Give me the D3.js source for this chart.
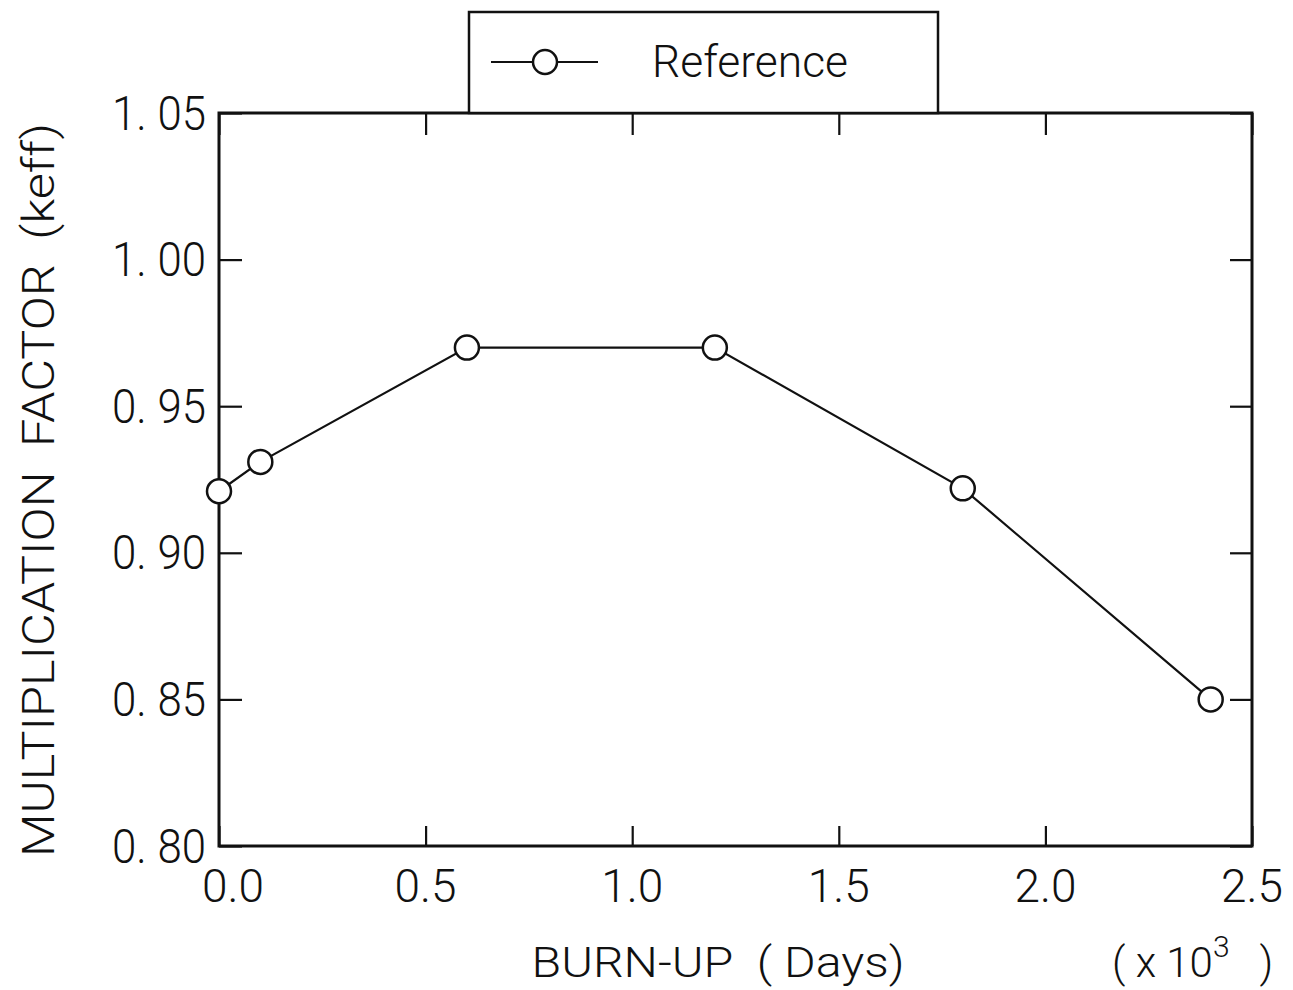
<!DOCTYPE html>
<html>
<head>
<meta charset="utf-8">
<script src="https://cdn.jsdelivr.net/npm/d3@7"></script>
<style>
  html, body { margin: 0; padding: 0; background: #fff; }
  svg text { font-family: "Roboto", "DejaVu Sans", sans-serif; font-weight: 300; fill: #111; white-space: pre; }
</style>
</head>
<body>
<svg id="chart" width="1293" height="990"></svg>
<script>
// Burn-up (thousands of days) and effective multiplication factor
const burnup = [0.0, 0.1, 0.6, 1.2, 1.8, 2.4];
const keff   = [0.921, 0.931, 0.970, 0.970, 0.922, 0.850];
const seriesName = "Reference";

const xTicks = [0.0, 0.5, 1.0, 1.5, 2.0, 2.5];
const xTickLabels = ["0.0", "0.5", "1.0", "1.5", "2.0", "2.5"];
const yTicks = [0.80, 0.85, 0.90, 0.95, 1.00, 1.05];
const yTickLabels = ["0. 80", "0. 85", "0. 90", "0. 95", "1. 00", "1. 05"];

const svg = d3.select("#chart");
const m = { left: 219, right: 1252, top: 113, bottom: 846 };

const x = d3.scaleLinear().domain([0, 2.5]).range([m.left, m.right]);
const y = d3.scaleLinear().domain([0.80, 1.05]).range([m.bottom, m.top]);

const ink = "#111";

// Inward ticks on all four sides
const axes = [
  { ax: d3.axisBottom(x).tickValues(xTicks).tickSizeInner(-20).tickSizeOuter(0), t: `translate(0,${m.bottom})` },
  { ax: d3.axisTop(x).tickValues(xTicks).tickSizeInner(-22).tickSizeOuter(0), t: `translate(0,${m.top})` },
  { ax: d3.axisLeft(y).tickValues(yTicks).tickSizeInner(-23).tickSizeOuter(0), t: `translate(${m.left},0)` },
  { ax: d3.axisRight(y).tickValues(yTicks).tickSizeInner(-22).tickSizeOuter(0), t: `translate(${m.right},0)` }
];
axes.forEach(a => {
  const g = svg.append("g").attr("transform", a.t).call(a.ax.tickFormat(""));
  g.select(".domain").remove();
  g.selectAll(".tick line").attr("stroke", ink).attr("stroke-width", 2.2);
});

// Frame
svg.append("rect")
  .attr("x", m.left).attr("y", m.top)
  .attr("width", m.right - m.left).attr("height", m.bottom - m.top)
  .attr("fill", "none").attr("stroke", ink).attr("stroke-width", 3);

// Tick labels
svg.append("g").selectAll("text").data(yTicks).join("text")
  .attr("x", 206)
  .attr("y", d => y(d))
  .attr("dy", "0.34em")
  .attr("text-anchor", "end")
  .attr("font-size", 49)
  .attr("textLength", 94).attr("lengthAdjust", "spacingAndGlyphs")
  .text((d, i) => yTickLabels[i]);

svg.append("g").selectAll("text").data(xTicks).join("text")
  .attr("x", (d, i) => x(d) + (i === 0 ? 14 : 0))
  .attr("y", 902)
  .attr("text-anchor", "middle")
  .attr("font-size", 46)
  .attr("textLength", 62).attr("lengthAdjust", "spacingAndGlyphs")
  .text((d, i) => xTickLabels[i]);

// Axis titles
svg.append("text")
  .attr("x", 718).attr("y", 977)
  .attr("text-anchor", "middle")
  .attr("font-size", 42)
  .attr("textLength", 373).attr("lengthAdjust", "spacingAndGlyphs")
  .text("BURN-UP  ( Days)");

const mult = svg.append("text")
  .attr("x", 1112).attr("y", 977)
  .attr("font-size", 42);
mult.append("tspan").text("( x 10");
mult.append("tspan").attr("dy", -20).attr("font-size", 30).text("3");
mult.append("tspan").attr("dy", 20).attr("dx", 30).text(")");

svg.append("text")
  .attr("transform", "translate(54,490) rotate(-90)")
  .attr("text-anchor", "middle")
  .attr("font-size", 44)
  .attr("textLength", 734).attr("lengthAdjust", "spacingAndGlyphs")
  .text("MULTIPLICATION  FACTOR  (keff)");

// Series line and hollow markers
const line = d3.line().x(d => x(d[0])).y(d => y(d[1]));
const pts = burnup.map((b, i) => [b, keff[i]]);

svg.append("path").datum(pts)
  .attr("d", line)
  .attr("fill", "none").attr("stroke", ink).attr("stroke-width", 2.2);

svg.append("g").selectAll("circle").data(pts).join("circle")
  .attr("cx", d => x(d[0])).attr("cy", d => y(d[1]))
  .attr("r", 12)
  .attr("fill", "#fff").attr("stroke", ink).attr("stroke-width", 2.5);

// Legend box sitting on top of the frame
const lg = svg.append("g");
lg.append("rect")
  .attr("x", 469).attr("y", 12).attr("width", 469).attr("height", m.top - 12)
  .attr("fill", "#fff").attr("stroke", ink).attr("stroke-width", 2.5);
lg.append("line")
  .attr("x1", 491).attr("x2", 598).attr("y1", 62).attr("y2", 62)
  .attr("stroke", ink).attr("stroke-width", 2.2);
lg.append("circle")
  .attr("cx", 545).attr("cy", 62).attr("r", 12)
  .attr("fill", "#fff").attr("stroke", ink).attr("stroke-width", 2.5);
lg.append("text")
  .attr("x", 652).attr("y", 77)
  .attr("font-size", 44)
  .attr("textLength", 196).attr("lengthAdjust", "spacingAndGlyphs")
  .text(seriesName);
</script>
</body>
</html>
